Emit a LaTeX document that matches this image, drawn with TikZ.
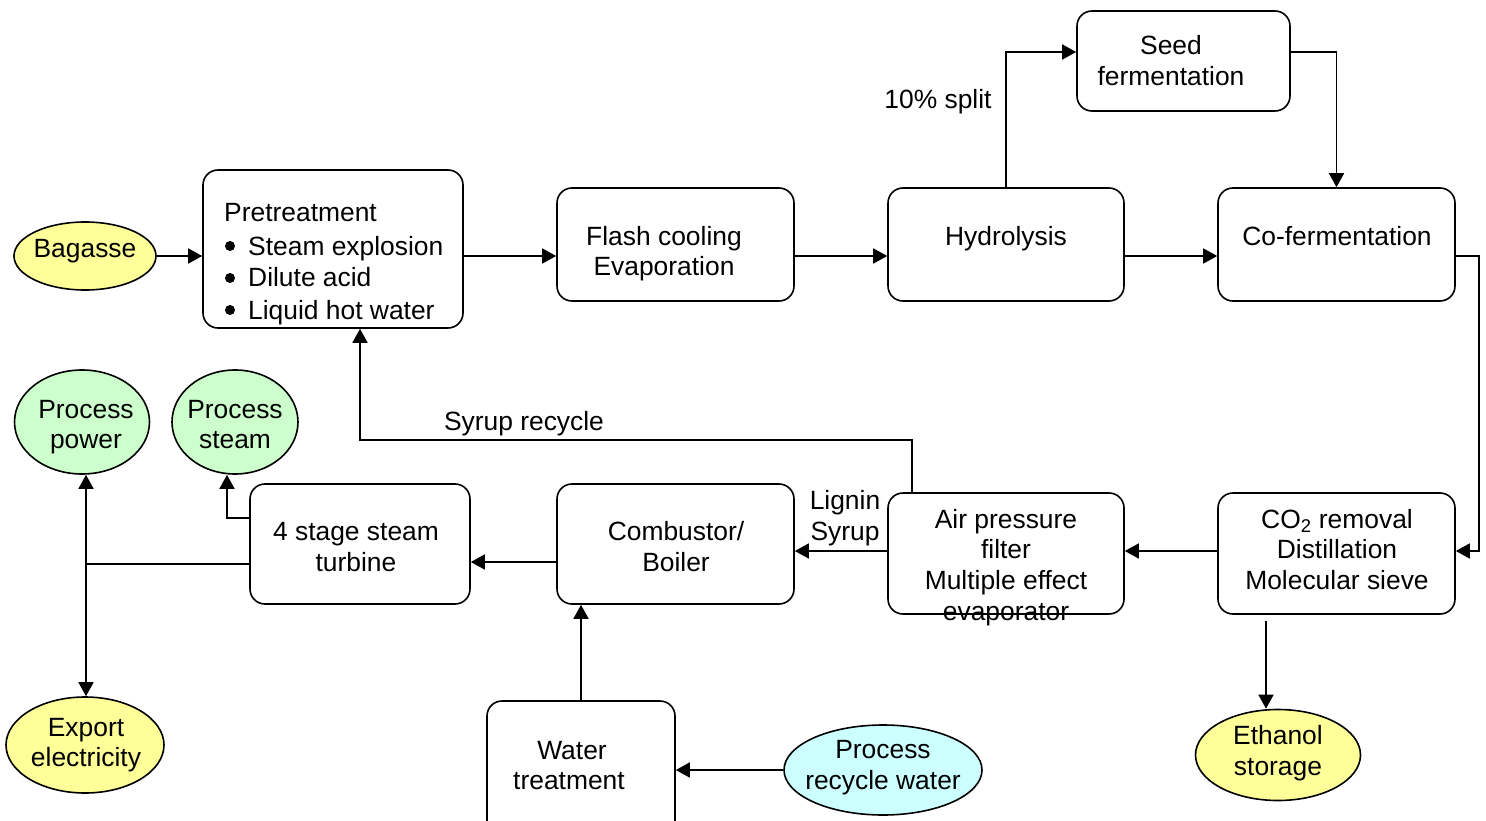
\documentclass[tikz,border=0pt]{standalone}
\usepackage{fontspec}
\setmainfont{Liberation Sans}
\usetikzlibrary{arrows.meta,shapes.geometric}
\definecolor{ylw}{HTML}{FFFF99}
\definecolor{grn}{HTML}{CCFFCC}
\definecolor{cyn}{HTML}{CCFFFF}
\tikzset{
  boxn/.style={draw, line width=1.6pt, rounded corners=15pt, fill=white, inner sep=0pt},
  ell/.style={ellipse, draw, line width=1.6pt, inner sep=0pt},
  txt/.style={inner sep=0pt, anchor=base, font=\fontsize{26.4}{31}\selectfont},
  bul/.style={circle, fill=black, inner sep=0pt, minimum size=10pt},
  con/.style={line width=1.6pt},
  arr/.style={con, -{Triangle[length=14pt,width=15pt]}}
}
\begin{document}
\begin{tikzpicture}[x=1pt,y=-1pt]
\clip (0,0) rectangle (1486,821);
\fill[white] (0,0) rectangle (1486,821);

% boxes
\node[boxn, minimum width=260pt, minimum height=158pt] (pre) at (333,249) {};
\node[boxn, minimum width=237pt, minimum height=113pt] (fla) at (675.5,244.5) {};
\node[boxn, minimum width=236pt, minimum height=113pt] (hyd) at (1006,244.5) {};
\node[boxn, minimum width=237pt, minimum height=113pt] (cof) at (1336.5,244.5) {};
\node[boxn, minimum width=213pt, minimum height=100pt] (seed) at (1183.5,61) {};
\node[boxn, minimum width=237pt, minimum height=121pt] (co2) at (1336.5,553.5) {};
\node[boxn, minimum width=236pt, minimum height=121pt] (air) at (1006,553.5) {};
\node[boxn, minimum width=237pt, minimum height=120pt] (com) at (675.5,544) {};
\node[boxn, minimum width=220pt, minimum height=120pt] (tur) at (360,544) {};
\node[boxn, minimum width=188pt, minimum height=140pt] (wat) at (581,771) {};

% ellipses
\node[ell, fill=ylw, minimum width=142pt, minimum height=68pt] (bag) at (85,256) {};
\node[ell, fill=grn, minimum width=135pt, minimum height=104pt] (pp) at (82,422) {};
\node[ell, fill=grn, minimum width=126pt, minimum height=104pt] (ps) at (235,422) {};
\node[ell, fill=ylw, minimum width=158pt, minimum height=96pt] (exp) at (85,745) {};
\node[ell, fill=ylw, minimum width=165pt, minimum height=91pt] (eth) at (1278,755) {};
\node[ell, fill=cyn, minimum width=198pt, minimum height=90pt] (prw) at (883,770) {};

% texts
\node[txt] (tbag) at (85,258) {Bagasse};
\node[txt, anchor=base west] (tpre1) at (224,222) {Pretreatment};
\node[bul] (tb1) at (230,246) {};
\node[bul] (tb2) at (230,278) {};
\node[bul] (tb3) at (230,310) {};
\node[txt, anchor=base west] (tpre2) at (248,255) {Steam explosion};
\node[txt, anchor=base west] (tpre3) at (248,287) {Dilute acid};
\node[txt, anchor=base west] (tpre4) at (248,319) {Liquid hot water};
\node[txt] (tfla1) at (664,245) {Flash cooling};
\node[txt] (tfla2) at (664,276) {Evaporation};
\node[txt] (thyd) at (1006,245) {Hydrolysis};
\node[txt] (tcof) at (1337,245) {Co-fermentation};
\node[txt] (tseed1) at (1171,55) {Seed};
\node[txt] (tseed2) at (1171,86) {fermentation};
\node[txt] (tsplit) at (938,109) {10\% split};
\node[txt] (tco1) at (1337,528) {CO\textsubscript{2} removal};
\node[txt] (tco2) at (1337,558) {Distillation};
\node[txt] (tco3) at (1337,589) {Molecular sieve};
\node[txt] (tair1) at (1006,528) {Air pressure};
\node[txt] (tair2) at (1006,558) {filter};
\node[txt] (tair3) at (1006,589) {Multiple effect};
\node[txt] (tair4) at (1006,620) {evaporator};
\node[txt] (tlig1) at (845,509) {Lignin};
\node[txt] (tlig2) at (845,540) {Syrup};
\node[txt] (tcom1) at (676,540) {Combustor/};
\node[txt] (tcom2) at (676,571) {Boiler};
\node[txt] (ttur1) at (356,540) {4 stage steam};
\node[txt] (ttur2) at (356,571) {turbine};
\node[txt] (tsyr) at (524,430) {Syrup recycle};
\node[txt] (tpp1) at (86,418) {Process};
\node[txt] (tpp2) at (86,448) {power};
\node[txt] (tps1) at (235,418) {Process};
\node[txt] (tps2) at (235,448) {steam};
\node[txt] (texp1) at (86,736) {Export};
\node[txt] (texp2) at (86,766) {electricity};
\node[txt] (teth1) at (1278,744) {Ethanol};
\node[txt] (teth2) at (1278,775) {storage};
\node[txt] (twat1) at (572,759) {Water};
\node[txt] (twat2) at (569,789) {treatment};
\node[txt] (tprw1) at (883,758) {Process};
\node[txt] (tprw2) at (883,789) {recycle water};

% connectors
\draw[arr] (bag.east) -- (bag.east -| pre.west);
\draw[arr] (pre.east |- bag.east) -- (fla.west |- bag.east);
\draw[arr] (fla.east |- bag.east) -- (hyd.west |- bag.east);
\draw[arr] (hyd.east |- bag.east) -- (cof.west |- bag.east);
\draw[arr] (hyd.north) |- ([yshift=9pt]seed.west);
\draw[arr] ([yshift=9pt]seed.east) -| (cof.north);
\draw[arr] (cof.east |- bag.east) -- ++(23,0) |- ([yshift=2.5pt]co2.east);
\draw[arr] ([yshift=2.5pt]co2.west) -- ([yshift=2.5pt]air.east);
\draw[arr] ([yshift=2.5pt]air.west) -- ([yshift=2.5pt]air.west -| com.east);
\draw[arr] ([yshift=-18pt]com.west) -- ([yshift=-18pt]com.west -| tur.east);
\draw[arr] ([yshift=26pt]tur.west) -| ([xshift=-8pt]ps.south);
\coordinate (jn) at ([yshift=-20pt]tur.west -| 86,0);
\draw[con] ([yshift=-20pt]tur.west) -- (jn);
\draw[arr] (jn) -- (jn |- pp.south);
\draw[arr] (jn) -- (jn |- exp.north);
\draw[arr] (wat.north) -- (wat.north |- com.south);
\draw[arr] (prw.west) -- (prw.west -| wat.east);
\draw[arr] ([xshift=-94pt]air.north) -- ++(0,-52) -| ([xshift=27pt]pre.south);
\draw[arr] ([xshift=-70.5pt,yshift=-6pt]co2.south) -- ([xshift=-70.5pt]co2.south |- eth.north);
\end{tikzpicture}
\end{document}
